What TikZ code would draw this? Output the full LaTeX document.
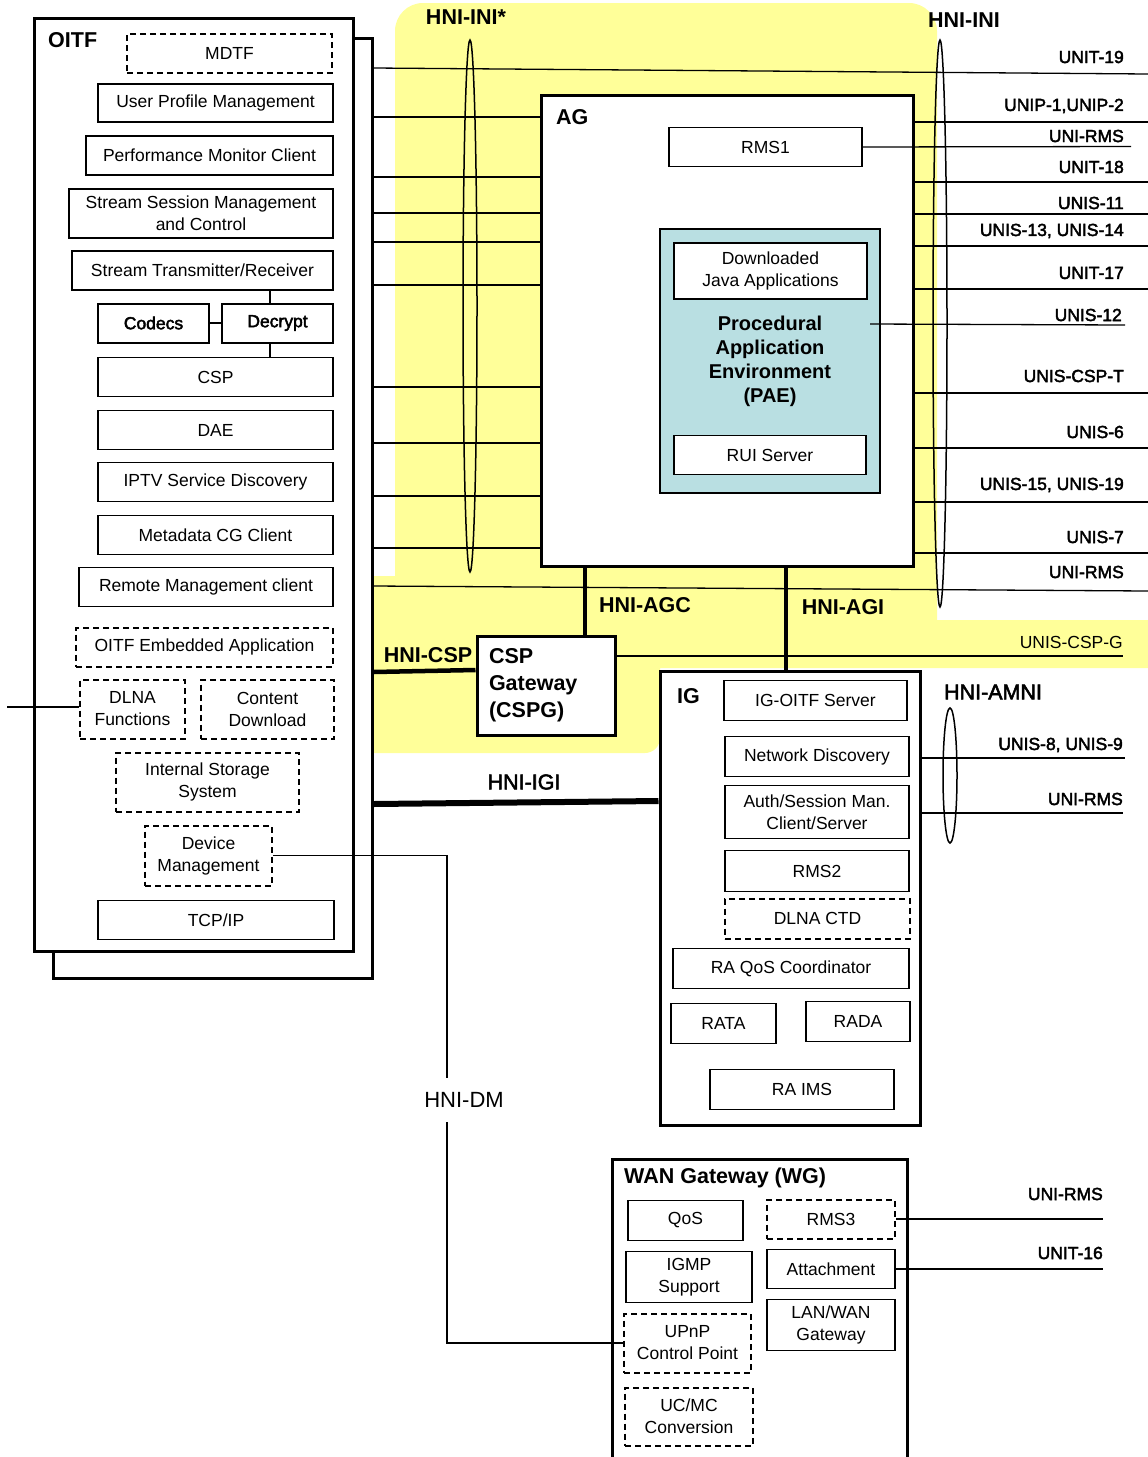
\documentclass[tikz,border=0pt]{standalone}
\usepackage{fontspec}
\setmainfont{Liberation Sans}
\newfontfamily\ghostfont[FakeBold=2.5]{Liberation Sans}
\usetikzlibrary{shapes.geometric}
\definecolor{hniyellow}{RGB}{255,255,153}
\definecolor{paeblue}{RGB}{185,223,226}
\tikzset{
  box/.style={draw, line width=1.3pt, fill=white, inner sep=0pt, align=center, font=\fontsize{17.5}{22}\selectfont},
  dbox/.style={box, line width=2pt, dash pattern=on 6pt off 4pt},
  hull/.style={draw, line width=3pt, fill=white, inner sep=0pt},
  headlbl/.style={font=\fontsize{21.5}{27}\selectfont\bfseries, inner sep=0pt},
  ghostlbl/.style={font=\fontsize{21.5}{27}\ghostfont, inner sep=0pt},
  iface/.style={font=\fontsize{17.5}{22}\ghostfont, inner sep=0pt, anchor=east},
  link/.style={line width=1.3pt},
  bus/.style={line width=4.5pt},
  ring/.style={draw, ellipse, line width=1.5pt, inner sep=0pt, minimum width=14pt},
}
\begin{document}
\begin{tikzpicture}[x=1pt,y=-1pt]
\useasboundingbox (0,0) rectangle (1148,1457);
\fill[hniyellow] (373,576) -- (395,576) -- (395,31) arc[start angle=180,end angle=90,radius=28pt] -- (909,3) arc[start angle=90,end angle=0,radius=28pt] -- (937,620) -- (1148,620) -- (1148,668) -- (660,668) -- (660,738) arc[start angle=0,end angle=-90,radius=15pt] -- (373,753) -- cycle;

\node[hull, minimum width=319pt, minimum height=940pt] (oitfb) at (212.5,508) {};
\node[hull, minimum width=319pt, minimum height=933pt] (oitf) at (193.5,484.5) {};
\node[headlbl, anchor=west] (oitflbl) at (48,40) {OITF};
\node[dbox, minimum width=205pt, minimum height=39pt] (mdtf) at (229.5,53.5) {MDTF};
\node[box, minimum width=235pt, minimum height=38pt] (upm) at (215.5,103) {User Profile Management};
\node[box, minimum width=247pt, minimum height=39pt] (pmc) at (209.5,155.5) {Performance Monitor Client};
\node[box, minimum width=264pt, minimum height=49pt] (ssm) at (201,213.5) {Stream Session Management\\and Control};
\node[box, minimum width=261pt, minimum height=39pt] (stx) at (202.5,270.5) {Stream Transmitter/Receiver};
\node[box, line width=2pt, font=\fontsize{17.5}{22}\ghostfont, minimum width=111pt, minimum height=39pt] (codecs) at (153.5,323) {Codecs};
\node[box, line width=2pt, font=\fontsize{17.5}{22}\ghostfont, minimum width=111pt, minimum height=39pt] (decr) at (277.5,323) {Decrypt};
\node[box, minimum width=235pt, minimum height=39pt] (csp) at (215.5,377) {CSP};
\node[box, minimum width=235pt, minimum height=39pt] (dae) at (215.5,430) {DAE};
\node[box, minimum width=235pt, minimum height=39pt] (iptv) at (215.5,482) {IPTV Service Discovery};
\node[box, minimum width=235pt, minimum height=39pt] (mcg) at (215.5,535) {Metadata CG Client};
\node[box, minimum width=254pt, minimum height=39pt] (rmc) at (206,587) {Remote Management client};
\node[dbox, minimum width=257pt, minimum height=39pt] (oea) at (204.5,647) {OITF Embedded Application};
\node[dbox, minimum width=105pt, minimum height=59pt] (dlna) at (132.5,709) {DLNA\\Functions};
\node[dbox, minimum width=133pt, minimum height=59pt] (cdl) at (267.5,709) {Content\\Download};
\node[dbox, minimum width=183pt, minimum height=59pt] (iss) at (207.5,782) {Internal Storage\\System};
\node[dbox, minimum width=127pt, minimum height=60pt] (devm) at (208.5,855.5) {Device\\Management};
\node[box, minimum width=236pt, minimum height=39pt] (tcp) at (216,920) {TCP/IP};
\draw[link] (270,0 |- stx.south) -- (270,0 |- decr.north);
\draw[link] (codecs.east) -- (decr.west);
\draw[link] (270,0 |- decr.south) -- (270,0 |- csp.north);
\coordinate (dlnaend) at (7,707);
\draw[link] (dlna.west |- dlnaend) -- (dlnaend);

\node[hull, minimum width=372pt, minimum height=471pt] (ag) at (727,330.5) {};
\node[headlbl, anchor=west] (aglbl) at (556,117) {AG};
\node[box, minimum width=193pt, minimum height=39pt] (rms1) at (765.5,147) {RMS1};
\node[draw, line width=1.3pt, fill=paeblue, inner sep=0pt, align=center, font=\fontsize{20}{24}\selectfont\bfseries, minimum width=220pt, minimum height=264pt] (pae) at (770,361) {Procedural\\Application\\Environment\\(PAE)};
\node[box, minimum width=193pt, minimum height=56pt] (java) at (770.5,271) {Downloaded\\Java Applications};
\node[box, minimum width=192pt, minimum height=39pt] (rui) at (770,455) {RUI Server};

\node[hull, align=left, text width=114pt, inner xsep=12pt, minimum height=99pt, font=\fontsize{21.5}{27}\selectfont\bfseries] (cspg) at (546,685.5) {CSP\\Gateway\\(CSPG)};

\node[hull, minimum width=260pt, minimum height=454pt] (ig) at (790,898) {};
\node[headlbl, anchor=west] (iglbl) at (677,696) {IG};
\node[box, minimum width=183pt, minimum height=40pt] (igos) at (815.5,700.5) {IG-OITF Server};
\node[box, minimum width=184pt, minimum height=40pt] (nd) at (817,756.5) {Network Discovery};
\node[box, minimum width=184pt, minimum height=53pt] (auth) at (817,812) {Auth/Session Man.\\Client/Server};
\node[box, minimum width=184pt, minimum height=41pt] (rms2) at (817,871) {RMS2};
\node[dbox, minimum width=185pt, minimum height=40pt] (ctd) at (817.5,918.5) {DLNA CTD};
\node[box, minimum width=236pt, minimum height=40pt] (raqos) at (791,968.5) {RA QoS Coordinator};
\node[box, minimum width=105pt, minimum height=40pt] (rata) at (723.5,1023.5) {RATA};
\node[box, minimum width=104pt, minimum height=40pt] (rada) at (858,1021.5) {RADA};
\node[box, minimum width=184pt, minimum height=40pt] (raims) at (802,1089.5) {RA IMS};

\node[hull, minimum width=295pt, minimum height=316pt] (wg) at (759.5,1317) {};
\node[headlbl, anchor=west] (wglbl) at (624,1178) {WAN Gateway (WG)};
\node[box, minimum width=115pt, minimum height=40pt] (qos) at (685.5,1220.5) {QoS};
\node[dbox, minimum width=128pt, minimum height=39pt] (rms3) at (831,1219) {RMS3};
\node[box, minimum width=126pt, minimum height=51pt] (igmp) at (689,1277) {IGMP\\Support};
\node[box, minimum width=128pt, minimum height=39pt] (attach) at (831,1269) {Attachment};
\node[dbox, minimum width=127pt, minimum height=59pt] (upnp) at (687.5,1343) {UPnP\\Control Point};
\node[box, minimum width=128pt, minimum height=51pt] (lanwan) at (831,1325) {LAN/WAN\\Gateway};
\node[dbox, minimum width=128pt, minimum height=58pt] (ucmc) at (689,1416.5) {UC/MC\\Conversion};

\foreach \y in {117,177,213,242,285,387,443,496,548}
  \draw[link] (oitfb.east |- 0,\y) -- (ag.west |- 0,\y);
\coordinate (u19) at (1148,74);
\draw[link] (oitfb.east |- 0,68) -- (u19);
\node[iface] (u19lbl) at (1124,57) {UNIT-19};
\coordinate (urms) at (1148,591);
\draw[link] (oitfb.east |- 0,586) -- (urms);
\node[iface] (urmslbl) at (1124,572) {UNI-RMS};
\foreach \y/\ly/\lab [count=\i] in {122/106/{UNIP-1,UNIP-2}, 182/167/UNIT-18, 214/203/UNIS-11, 246/231/{UNIS-13, UNIS-14}, 289/273/UNIT-17, 393/376/UNIS-CSP-T, 448/432/UNIS-6, 502/485/{UNIS-15, UNIS-19}, 553/537/UNIS-7} {
  \coordinate (ag\i) at (1148,\y);
  \draw[link] (ag.east |- ag\i) -- (ag\i);
  \node[iface] (ag\i lbl) at (1124,\ly) {\lab};
}
\coordinate (rms1end) at (1131,146.5);
\draw[link] (rms1.east) -- (rms1end);
\node[iface] (rms1lbl) at (1124,136) {UNI-RMS};
\coordinate (paeout) at (870,324);
\coordinate (paeend) at (1125,325);
\draw[link] (paeout) -- (paeend);
\node[iface] (paelbl) at (1122,315) {UNIS-12};
\coordinate (cspgend) at (1123,656);
\draw[link] (cspg.east |- cspgend) -- (cspgend);
\node[iface, font=\fontsize{17.5}{22}\selectfont] (cspglbl) at (1123,642) {UNIS-CSP-G};

\coordinate (ig1) at (1125,758);
\coordinate (ig2) at (1123,813);
\draw[link] (ig.east |- ig1) -- (ig1);
\draw[link] (ig.east |- ig2) -- (ig2);
\node[iface] (ig1lbl) at (1123,745) {UNIS-8, UNIS-9};
\node[iface] (ig2lbl) at (1123,799) {UNI-RMS};

\coordinate (wend) at (1103,0);
\draw[link, line width=2pt] (rms3.east) -- (rms3.east -| wend);
\draw[link, line width=2pt] (attach.east) -- (attach.east -| wend);
\node[iface] (wg1lbl) at (1103,1194) {UNI-RMS};
\node[iface] (wg2lbl) at (1103,1253) {UNIT-16};

\draw[bus] (585,0 |- ag.south) -- (585,0 |- cspg.north);
\draw[bus] (786,0 |- ag.south) -- (786,0 |- ig.north);
\draw[bus] (oitfb.east |- 0,672) -- (cspg.west |- 0,670);
\draw[bus, line width=6pt] (oitfb.east |- 0,804) -- (ig.west |- 0,801);
\node[headlbl] (agclbl) at (645,605) {HNI-AGC};
\node[headlbl] (agilbl) at (843,607) {HNI-AGI};
\node[headlbl] (csplbl) at (428,655) {HNI-CSP};
\node[ghostlbl] (igilbl) at (524,782) {HNI-IGI};

\node[ring, minimum height=532pt] (ringa) at (470,306) {};
\node[ring, minimum height=567pt] (ringb) at (940,323.5) {};
\node[ring, minimum height=135pt] (ringc) at (950,775.5) {};
\node[headlbl] (inistarlbl) at (466,17) {HNI-INI*};
\node[headlbl] (inilbl) at (964,20) {HNI-INI};
\node[ghostlbl] (amnilbl) at (993,692) {HNI-AMNI};

\node[inner sep=0pt, minimum height=44pt, font=\fontsize{22}{26}\selectfont] (dm) at (464,1100) {HNI-DM};
\draw[link, line width=1.8pt] (devm.east) -| (447,0 |- dm.north);
\draw[link, line width=1.8pt] (447,0 |- dm.south) |- (upnp.west);
\end{tikzpicture}
\end{document}
